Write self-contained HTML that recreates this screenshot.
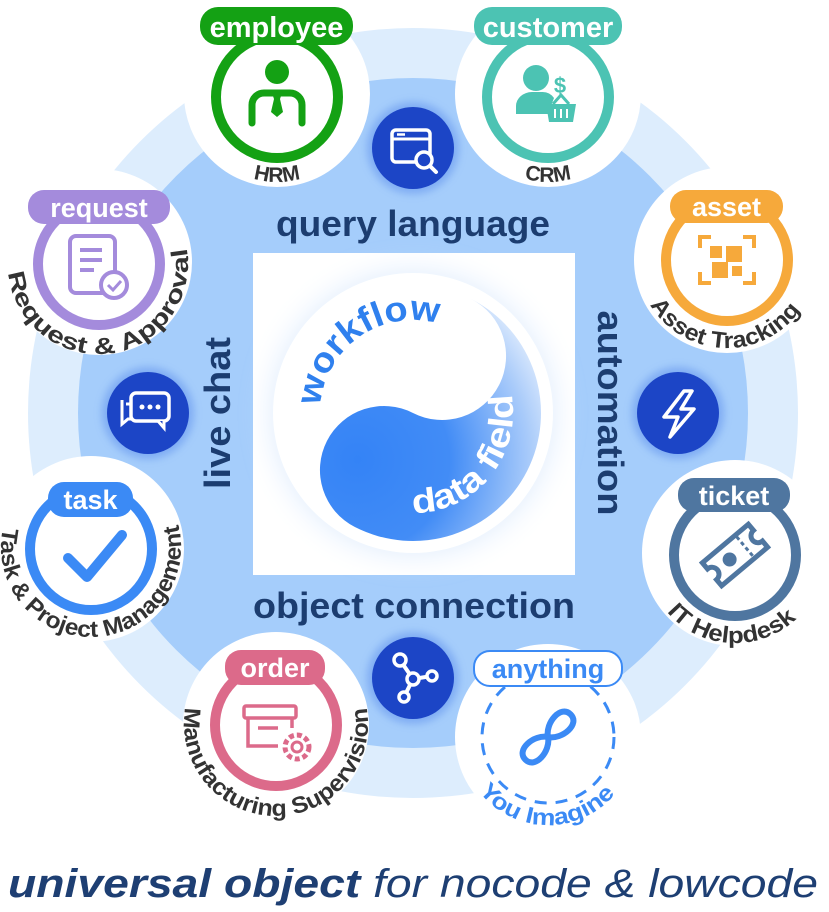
<!DOCTYPE html>
<html><head><meta charset="utf-8"><style>
html,body{margin:0;padding:0;background:#fff;}
svg{display:block;}
text{font-family:"Liberation Sans",Arial,sans-serif;}
</style></head><body>
<svg width="829" height="912" viewBox="0 0 829 912" xmlns="http://www.w3.org/2000/svg">
<defs>
<radialGradient id="lobe" gradientUnits="userSpaceOnUse" cx="385" cy="480" r="230">
<stop offset="0" stop-color="#3483f6"/><stop offset="0.4" stop-color="#428cf6"/><stop offset="0.75" stop-color="#a9cbfa"/><stop offset="1" stop-color="#ffffff"/>
</radialGradient>
<filter id="glow" x="-30%" y="-30%" width="160%" height="160%"><feGaussianBlur stdDeviation="14"/></filter>
<filter id="sglow" x="-40%" y="-40%" width="180%" height="180%"><feGaussianBlur stdDeviation="4"/></filter>
<path id="pReq" d="M10,245.3 A90 90 0 1 0 177.5,221.8"/>
<path id="pAsset" d="M639.3,278.2 A90 90 0 0 0 813.1,284.3"/>
<path id="pHRM" d="M222.4,162.1 A85 85 0 0 0 331.6,162.1"/>
<path id="pCRM" d="M493.4,162.1 A85 85 0 0 0 602.6,162.1"/>
<path id="pTicket" d="M650.4,583.8 A90 90 0 0 0 815.9,592.5"/>
<path id="pAny" d="M463,759.8 A88 88 0 0 0 632.2,762.7"/>
<path id="pOrder" d="M192.6,685.1 A92 92 0 1 0 359.4,685.1"/>
<path id="pTask" d="M9.4,509 A90 90 0 1 0 171.2,506.1"/>
<path id="pWork" d="M321.4,429.1 A93 93 0 0 1 459.5,332.5"/>
<path id="pData" d="M395.6,511.5 A100 100 0 0 0 506.4,377.2"/>
</defs>

<circle cx="413" cy="413" r="385" fill="#ddedfd"/>
<circle cx="413" cy="413" r="335" fill="#a5cdfb"/>
<rect x="253" y="253" width="322" height="322" fill="#fff"/>

<circle cx="413" cy="413" r="142" fill="#bcd8fb" filter="url(#glow)"/>
<rect x="253" y="253" width="322" height="322" fill="#fff" opacity="0.55"/>
<circle cx="413" cy="413" r="140" fill="#fff"/>
<path transform="rotate(27 413 413)" d="M413,285 A128 128 0 0 1 413,541 A64 64 0 0 1 413,413 A64 64 0 0 0 413,285 Z" fill="url(#lobe)"/>
<text font-size="35" font-weight="bold" fill="#2f80ee"><textPath href="#pWork" startOffset="50%" text-anchor="middle" textLength="165" lengthAdjust="spacingAndGlyphs">workflow</textPath></text>
<text font-size="34" font-weight="bold" fill="#fff"><textPath href="#pData" startOffset="50%" text-anchor="middle" textLength="176" lengthAdjust="spacingAndGlyphs">data field</textPath></text>

<text x="413" y="236" font-size="36" font-weight="bold" fill="#1c3d70" text-anchor="middle" textLength="274" lengthAdjust="spacingAndGlyphs">query language</text>
<text x="414" y="618" font-size="36" font-weight="bold" fill="#1c3d70" text-anchor="middle" textLength="322" lengthAdjust="spacingAndGlyphs">object connection</text>
<text transform="translate(230 413) rotate(-90)" font-size="36" font-weight="bold" fill="#1c3d70" text-anchor="middle" textLength="152" lengthAdjust="spacingAndGlyphs">live chat</text>
<text transform="translate(598 413) rotate(90)" font-size="36" font-weight="bold" fill="#1c3d70" text-anchor="middle" textLength="205" lengthAdjust="spacingAndGlyphs">automation</text>

<g>
<circle cx="413" cy="148" r="46" fill="#6f9ff0" filter="url(#sglow)" opacity="0.7"/>
<circle cx="413" cy="148" r="41" fill="#1c45c6"/>
<rect x="392" y="130" width="38" height="32" rx="4" fill="none" stroke="#fff" stroke-width="3.5"/>
<line x1="392" y1="139" x2="430" y2="139" stroke="#fff" stroke-width="3"/>
<line x1="397" y1="134.5" x2="405" y2="134.5" stroke="#fff" stroke-width="2.5"/>
<circle cx="424" cy="160" r="8" fill="#1c45c6" stroke="#fff" stroke-width="3.5"/>
<line x1="430" y1="166" x2="436" y2="172" stroke="#fff" stroke-width="4" stroke-linecap="round"/>

<circle cx="148" cy="413" r="46" fill="#6f9ff0" filter="url(#sglow)" opacity="0.7"/>
<circle cx="148" cy="413" r="41" fill="#1c45c6"/>
<path d="M126,404 h6 M122,400 v24 l6,-5 h22" fill="none" stroke="#fff" stroke-width="3"/>
<rect x="131" y="393" width="38" height="28" rx="5" fill="#1c45c6" stroke="#fff" stroke-width="3.5"/>
<path d="M158,421 l6,7 v-7" fill="#1c45c6" stroke="#fff" stroke-width="3"/>
<circle cx="142" cy="407" r="2.5" fill="#fff"/><circle cx="150" cy="407" r="2.5" fill="#fff"/><circle cx="158" cy="407" r="2.5" fill="#fff"/>

<circle cx="678" cy="413" r="46" fill="#6f9ff0" filter="url(#sglow)" opacity="0.7"/>
<circle cx="678" cy="413" r="41" fill="#1c45c6"/>
<path d="M684,391 L664,417 H678 L670,437 L694,409 H681 L692,391 Z" fill="none" stroke="#fff" stroke-width="3.5" stroke-linejoin="round"/>

<circle cx="413" cy="678" r="46" fill="#6f9ff0" filter="url(#sglow)" opacity="0.7"/>
<circle cx="413" cy="678" r="41" fill="#1c45c6"/>
<path d="M400,660 L413,679 L432,676 M413,679 L404,697" stroke="#fff" stroke-width="4" fill="none"/>
<circle cx="400" cy="660" r="6" fill="#1c45c6" stroke="#fff" stroke-width="3.5"/>
<circle cx="413" cy="679" r="6" fill="#1c45c6" stroke="#fff" stroke-width="3.5"/>
<circle cx="432" cy="676" r="5" fill="#1c45c6" stroke="#fff" stroke-width="3.5"/>
<circle cx="404" cy="697" r="5" fill="#1c45c6" stroke="#fff" stroke-width="3.5"/>
</g>

<g fill="#fff">
<circle cx="277" cy="94" r="93"/>
<circle cx="548" cy="94" r="93"/>
<circle cx="99" cy="262" r="93"/>
<circle cx="727" cy="260" r="93"/>
<circle cx="91" cy="549" r="93"/>
<circle cx="735" cy="553" r="93"/>
<circle cx="276" cy="725" r="93"/>
<circle cx="548" cy="737" r="93"/>
</g>

<circle cx="277" cy="97" r="61" fill="none" stroke="#14a114" stroke-width="10"/>
<rect x="200" y="7" width="153" height="38" rx="18" fill="#14a114"/>
<text x="276.5" y="37" font-size="29" font-weight="bold" fill="#fff" text-anchor="middle">employee</text>
<circle cx="277" cy="72" r="12" fill="#14a114"/>
<path d="M252,123 v-18 a12 12 0 0 1 12,-12 h26 a12 12 0 0 1 12,12 v18" fill="none" stroke="#14a114" stroke-width="7" stroke-linecap="round"/>
<path d="M272,93 h10 l-2,6 l3,13 l-6,5 l-6,-5 l3,-13 z" fill="#14a114"/>
<text font-size="21" font-weight="bold" fill="#333"><textPath href="#pHRM" startOffset="50%" text-anchor="middle">HRM</textPath></text>

<circle cx="548" cy="97" r="61" fill="none" stroke="#4cc3b3" stroke-width="10"/>
<rect x="474" y="7" width="148" height="38" rx="18" fill="#4cc3b3"/>
<text x="548" y="37" font-size="29" font-weight="bold" fill="#fff" text-anchor="middle">customer</text>
<circle cx="536" cy="78" r="13" fill="#4cc3b3"/>
<path d="M516,114 v-8 a16 14 0 0 1 16,-14 h10 a14 14 0 0 1 12,6 l-6,16 z" fill="#4cc3b3"/>
<text x="560" y="93" font-size="22" font-weight="bold" fill="#4cc3b3" text-anchor="middle">$</text>
<path d="M546,104 h30 l-3,18 h-24 z" fill="#4cc3b3"/>
<path d="M553,104 l8,-9 l8,9" fill="none" stroke="#4cc3b3" stroke-width="3"/>
<line x1="555" y1="109" x2="555" y2="118" stroke="#fff" stroke-width="2"/><line x1="561" y1="109" x2="561" y2="118" stroke="#fff" stroke-width="2"/><line x1="567" y1="109" x2="567" y2="118" stroke="#fff" stroke-width="2"/>
<text font-size="21" font-weight="bold" fill="#333"><textPath href="#pCRM" startOffset="50%" text-anchor="middle">CRM</textPath></text>

<circle cx="99" cy="264" r="61" fill="none" stroke="#a48bdc" stroke-width="10"/>
<rect x="28" y="190" width="142" height="34" rx="16" fill="#a48bdc"/>
<text x="99" y="217" font-size="27" font-weight="bold" fill="#fff" text-anchor="middle">request</text>
<rect x="70" y="236" width="45" height="57" rx="6" fill="none" stroke="#a48bdc" stroke-width="4"/>
<path d="M80,250 h22 M80,260 h22 M80,270 h14" stroke="#a48bdc" stroke-width="4"/>
<circle cx="114" cy="285" r="13" fill="#fff" stroke="#a48bdc" stroke-width="4"/>
<path d="M108,285 l5,5 l8,-9" fill="none" stroke="#a48bdc" stroke-width="3"/>
<text font-size="23" font-weight="bold" fill="#333"><textPath href="#pReq" startOffset="50%" text-anchor="middle" textLength="290" lengthAdjust="spacingAndGlyphs">Request &amp; Approval</textPath></text>

<circle cx="727" cy="260" r="61" fill="none" stroke="#f6a93b" stroke-width="10"/>
<rect x="670" y="190" width="113" height="33" rx="16" fill="#f6a93b"/>
<text x="726.5" y="216" font-size="27" font-weight="bold" fill="#fff" text-anchor="middle">asset</text>
<path d="M700,248 v-11 h11 M743,237 h11 v11 M754,272 v11 h-11 M711,283 h-11 v-11" fill="none" stroke="#f6a93b" stroke-width="4"/>
<rect x="710" y="246" width="12" height="12" fill="#f6a93b"/><rect x="726" y="246" width="16" height="16" fill="#f6a93b"/>
<rect x="712" y="262" width="16" height="16" fill="#f6a93b"/><rect x="732" y="266" width="10" height="10" fill="#f6a93b"/>
<text font-size="23" font-weight="bold" fill="#333"><textPath href="#pAsset" startOffset="50%" text-anchor="middle" textLength="178" lengthAdjust="spacingAndGlyphs">Asset Tracking</textPath></text>

<circle cx="91" cy="549" r="61" fill="none" stroke="#3b8af5" stroke-width="10"/>
<rect x="48" y="482" width="85" height="35" rx="16" fill="#3b8af5"/>
<text x="90.5" y="509" font-size="27" font-weight="bold" fill="#fff" text-anchor="middle">task</text>
<path d="M68,558 l19,19 l35,-42" fill="none" stroke="#3b8af5" stroke-width="10" stroke-linecap="round" stroke-linejoin="round"/>
<text font-size="23" font-weight="bold" fill="#333"><textPath href="#pTask" startOffset="50%" text-anchor="middle" textLength="325" lengthAdjust="spacingAndGlyphs">Task &amp; Project Management</textPath></text>

<circle cx="735" cy="555" r="61" fill="none" stroke="#4f76a0" stroke-width="10"/>
<rect x="678" y="478" width="112" height="34" rx="16" fill="#4f76a0"/>
<text x="734" y="505" font-size="27" font-weight="bold" fill="#fff" text-anchor="middle">ticket</text>
<g transform="rotate(-40 735 555)">
<path d="M705,540 h60 v8 a7 7 0 0 0 0,14 v8 h-60 v-8 a7 7 0 0 0 0,-14 z" fill="none" stroke="#4f76a0" stroke-width="5"/>
<line x1="748" y1="542" x2="748" y2="568" stroke="#4f76a0" stroke-width="3" stroke-dasharray="4 3"/>
<circle cx="728" cy="555" r="7" fill="#4f76a0"/>
</g>
<text font-size="23" font-weight="bold" fill="#333"><textPath href="#pTicket" startOffset="50%" text-anchor="middle" textLength="145" lengthAdjust="spacingAndGlyphs">IT Helpdesk</textPath></text>

<circle cx="276" cy="725" r="61" fill="none" stroke="#dc6a8a" stroke-width="10"/>
<rect x="225" y="650" width="100" height="35" rx="16" fill="#dc6a8a"/>
<text x="275" y="677" font-size="27" font-weight="bold" fill="#fff" text-anchor="middle">order</text>
<rect x="244" y="706" width="52" height="12" rx="2" fill="none" stroke="#dc6a8a" stroke-width="3.5"/>
<path d="M248,718 v28 h30 M292,718 v10" fill="none" stroke="#dc6a8a" stroke-width="3.5"/>
<line x1="258" y1="728" x2="278" y2="728" stroke="#dc6a8a" stroke-width="3.5"/>
<circle cx="297" cy="747" r="12" fill="#fff" stroke="#dc6a8a" stroke-width="5" stroke-dasharray="5 3"/>
<circle cx="297" cy="747" r="5" fill="none" stroke="#dc6a8a" stroke-width="3"/>
<text font-size="23" font-weight="bold" fill="#333"><textPath href="#pOrder" startOffset="50%" text-anchor="middle" textLength="322" lengthAdjust="spacingAndGlyphs">Manufacturing Supervision</textPath></text>

<circle cx="548" cy="737" r="66" fill="none" stroke="#3b8af5" stroke-width="3" stroke-dasharray="12 9"/>
<rect x="474" y="651" width="148" height="35" rx="16" fill="#fff" stroke="#3b8af5" stroke-width="2"/>
<text x="548" y="678" font-size="27" font-weight="bold" fill="#3b8af5" text-anchor="middle">anything</text>
<g transform="rotate(-45 548 737)">
<path d="M548,737 c-8,-12 -32,-14 -32,0 c0,14 24,12 32,0 c8,-12 32,-14 32,0 c0,14 -24,12 -32,0" fill="none" stroke="#3b8af5" stroke-width="6" stroke-linecap="round"/>
</g>
<text font-size="23" font-weight="bold" fill="#3b8af5"><textPath href="#pAny" startOffset="50%" text-anchor="middle" textLength="156" lengthAdjust="spacingAndGlyphs">You Imagine</textPath></text>

<text x="8" y="897" font-size="40" font-style="italic" fill="#1e3f73" textLength="810" lengthAdjust="spacingAndGlyphs"><tspan font-weight="bold">universal object</tspan> for nocode &amp; lowcode</text>
</svg>
</body></html>
